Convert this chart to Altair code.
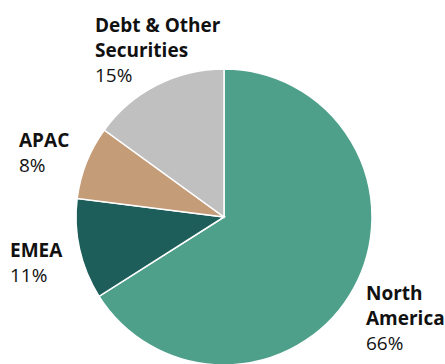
import altair as alt
import pandas as pd

categories = ["North America", "EMEA", "APAC", "Debt & Other Securities"]
shares = [66, 11, 8, 15]
name_lines = ["North\nAmerica", "EMEA", "APAC", "Debt & Other\nSecurities"]
pct_labels = ["66%", "11%", "8%", "15%"]
colors = ["#4ea08b", "#1d5e5a", "#c49c78", "#c0c0c0"]

# label anchor (left x, first baseline y) in page pixels
label_pos = {
    "North America": (366, 300),
    "EMEA": (10, 257),
    "APAC": (19, 146.5),
    "Debt & Other Securities": (95, 31.5),
}

PAD_L, PAD_T = 3, 70
W, H = 442, 294
LINE_H = 25
FONT = "Open Sans"
FS = 19

df = pd.DataFrame({"category": categories, "share": shares, "idx": list(range(len(categories)))})

pie = alt.Chart(df).mark_arc(outerRadius=148, stroke="white", strokeWidth=1.5).encode(
    theta=alt.Theta("share:Q", stack=True),
    order=alt.Order("idx:Q"),
    color=alt.Color("category:N", scale=alt.Scale(domain=categories, range=colors), legend=None),
)

layers = [pie]
for cat, nm, pct in zip(categories, name_lines, pct_labels):
    x0, y0 = label_pos[cat]
    nlines = nm.count("\n") + 1
    row = pd.DataFrame({"name": [nm.split("\n")], "pct": [pct]})
    base = alt.Chart(row)
    layers.append(
        base.mark_text(align="left", baseline="alphabetic", font=FONT, fontSize=FS,
                       fontWeight="bold", color="#111111", lineHeight=LINE_H).encode(
            x=alt.value(x0 - PAD_L), y=alt.value(y0 - PAD_T), text="name")
    )
    layers.append(
        base.mark_text(align="left", baseline="alphabetic", font=FONT, fontSize=FS,
                       fontWeight="normal", color="#111111").encode(
            x=alt.value(x0 - PAD_L), y=alt.value(y0 + LINE_H * nlines - PAD_T), text="pct")
    )

chart = alt.layer(*layers).properties(
    width=W, height=H,
    autosize=alt.AutoSizeParams(type="none"),
    padding={"left": PAD_L, "top": PAD_T, "right": 0, "bottom": 0},
).configure_view(stroke=None)

chart.save("out.html", embed_options={"renderer": "svg", "actions": False})
